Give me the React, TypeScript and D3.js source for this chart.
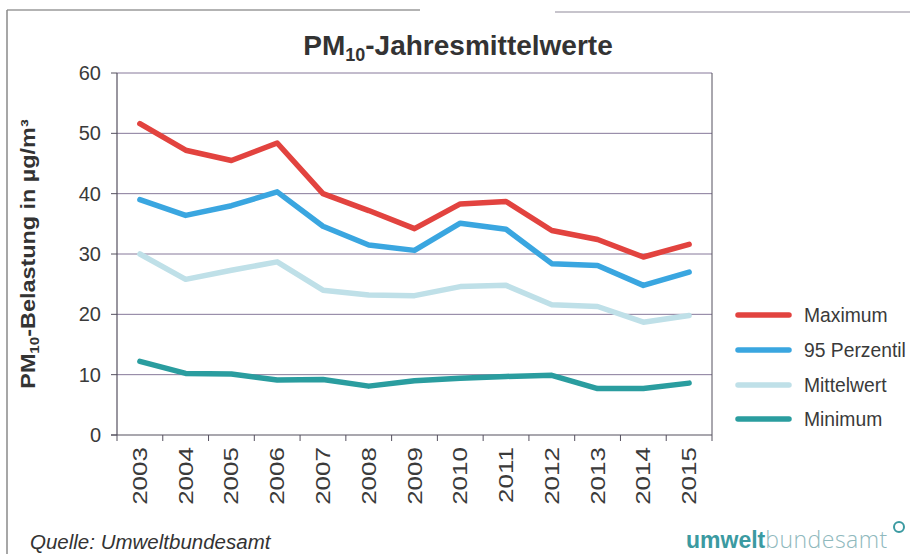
import React from "react";
import * as d3 from "d3";

const years = ["2003","2004","2005","2006","2007","2008","2009","2010","2011","2012","2013","2014","2015"];
const maximum = [51.6, 47.2, 45.5, 48.4, 40.0, 37.2, 34.2, 38.3, 38.7, 33.9, 32.4, 29.5, 31.6];
const perzentil95 = [39.0, 36.4, 38.0, 40.3, 34.6, 31.5, 30.6, 35.1, 34.1, 28.4, 28.1, 24.8, 27.0];
const mittelwert = [30.0, 25.8, 27.3, 28.7, 24.0, 23.2, 23.1, 24.6, 24.8, 21.6, 21.3, 18.7, 19.8];
const minimum = [12.2, 10.2, 10.1, 9.1, 9.2, 8.1, 9.0, 9.4, 9.7, 9.9, 7.7, 7.7, 8.6];
const yTicks = [0, 10, 20, 30, 40, 50, 60];
const seriesNames = ["Maximum", "95 Perzentil", "Mittelwert", "Minimum"];
const seriesColors = ["#e2433f", "#3aa6e0", "#bfe0e8", "#2a9d9f"];

export default function App() {
  const W = 910, H = 554;
  const left = 117, right = 712, top = 73, bottom = 435;
  const x = d3.scaleBand<string>().domain(years).range([left, right]);
  const y = d3.scaleLinear().domain([0, 60]).range([bottom, top]);
  const line = d3.line<number>()
    .x((_, i) => (x(years[i]) as number) + x.bandwidth() / 2)
    .y((v) => y(v));
  const series = [maximum, perzentil95, mittelwert, minimum];
  const font = "'Liberation Sans', Arial, sans-serif";
  const gridColor = "#86799a";
  const axisColor = "#55505f";
  const textColor = "#3a3a3a";
  const legendY = [315, 350, 385, 419];

  return (
    <div style={{ position: "absolute", left: 0, top: 0, width: W, height: H, overflow: "hidden" }}>
      <svg width={W} height={H} style={{ display: "block", background: "#fff" }} fontFamily={font}>
        {/* frame */}
        <line x1={7} y1={10} x2={420} y2={10} stroke="#9a9a9a" strokeWidth={1.5} />
        <line x1={555} y1={12} x2={910} y2={12} stroke="#b5b0bb" strokeWidth={1.5} />
        <line x1={7} y1={10} x2={7} y2={554} stroke="#8a8a8a" strokeWidth={1.5} />

        {/* title */}
        <text x={458} y={55} textAnchor="middle" fontSize={28} fontWeight="bold" fill="#333">
          PM<tspan fontSize={18} dy={6}>10</tspan><tspan dy={-6}>-Jahresmittelwerte</tspan>
        </text>

        {/* gridlines */}
        {yTicks.filter((t) => t > 0).map((t) => (
          <line key={t} x1={left} x2={right} y1={y(t)} y2={y(t)} stroke={gridColor} strokeWidth={1} />
        ))}
        <line x1={right} x2={right} y1={top} y2={bottom} stroke={axisColor} strokeWidth={1} />

        {/* y axis */}
        <line x1={left} x2={left} y1={top} y2={bottom} stroke={axisColor} strokeWidth={1.2} />
        {yTicks.map((t) => (
          <g key={t}>
            <line x1={left - 6} x2={left} y1={y(t)} y2={y(t)} stroke={axisColor} strokeWidth={1} />
            <text x={101} y={y(t) + 7} textAnchor="end" fontSize={20} fill={textColor}>{t}</text>
          </g>
        ))}

        {/* x axis */}
        <line x1={left - 6} x2={right} y1={bottom} y2={bottom} stroke={axisColor} strokeWidth={1.2} />
        {years.map((yr) => (
          <line key={"t" + yr} x1={x(yr) as number} x2={x(yr) as number} y1={bottom} y2={bottom + 6} stroke={axisColor} strokeWidth={1} />
        ))}
        <line x1={right} x2={right} y1={bottom} y2={bottom + 6} stroke={axisColor} strokeWidth={1} />
        {years.map((yr) => {
          const cx = (x(yr) as number) + x.bandwidth() / 2 + 7;
          return (
            <text key={yr} transform={`translate(${cx},${bottom + 12}) rotate(-90) scale(1.3,1)`} textAnchor="end" fontSize={20} fill={textColor}>
              {yr}
            </text>
          );
        })}

        {/* y label */}
        <text transform={`translate(35,254) rotate(-90) scale(1.17,1)`} textAnchor="middle" fontSize={20} fontWeight="bold" fill="#333">
          PM<tspan fontSize={13} dy={4}>10</tspan><tspan dy={-4}>-Belastung in µg/m³</tspan>
        </text>

        {/* lines */}
        {series.map((s, i) => (
          <path key={i} d={line(s) as string} fill="none" stroke={seriesColors[i]} strokeWidth={5.5} strokeLinejoin="round" strokeLinecap="round" />
        ))}

        {/* legend */}
        {seriesNames.map((n, i) => (
          <g key={n}>
            <line x1={738} x2={789} y1={legendY[i]} y2={legendY[i]} stroke={seriesColors[i]} strokeWidth={5.5} strokeLinecap="round" />
            <text x={804} y={legendY[i] + 7} fontSize={19.3} fill={textColor}>{n}</text>
          </g>
        ))}

        {/* source */}
        <text x={30} y={549} fontSize={20.5} fontStyle="italic" fill="#333">Quelle: Umweltbundesamt</text>

        {/* logo */}
        <text x={686} y={548} fontSize={23} fill="#3b9aa1">
          <tspan fontWeight="bold">umwelt</tspan><tspan fill="#8fb9bd" fontFamily="'Open Sans', sans-serif" fontWeight={300} fontSize={23} letterSpacing={0.5}>bundesamt</tspan>
        </text>
        <circle cx={899} cy={527} r={5} fill="none" stroke="#3b9aa1" strokeWidth={2} />
      </svg>
    </div>
  );
}
